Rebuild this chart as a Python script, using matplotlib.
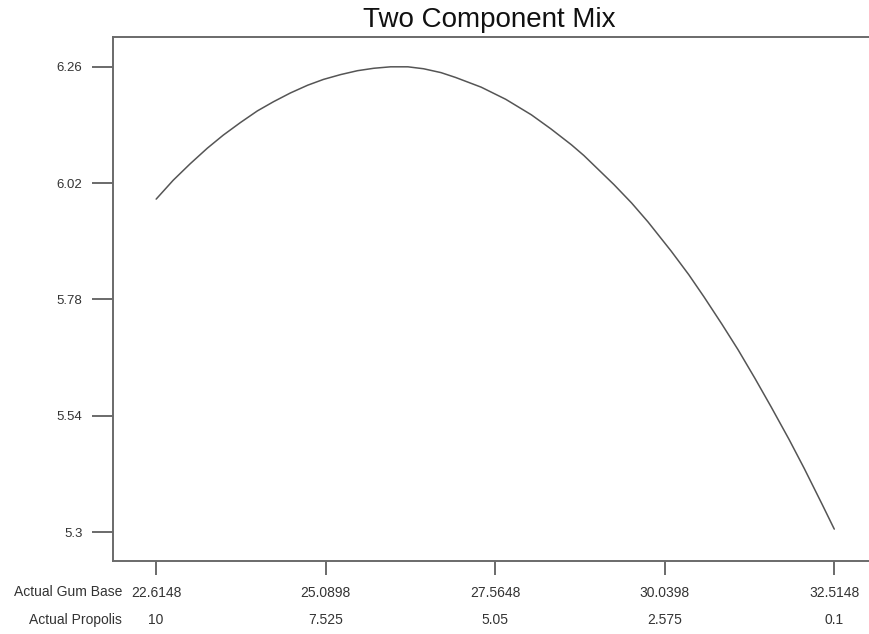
import matplotlib
matplotlib.use("Agg")
import matplotlib.pyplot as plt
import matplotlib.transforms as mtransforms

plt.rcParams["font.family"] = ["Liberation Sans", "DejaVu Sans"]

# response curve along the gum base / propolis mixture line
gum_base = [22.6148, 22.864, 23.112, 23.361, 23.594, 23.845, 24.092, 24.328,
            24.574, 24.826, 25.057, 25.309, 25.554, 25.792, 26.037, 26.290,
            26.519, 26.774, 26.987, 27.360, 27.718, 28.092, 28.377, 28.678,
            28.859, 29.298, 29.556, 29.795, 30.132, 30.391, 30.614, 30.874,
            31.111, 31.357, 31.594, 31.855, 32.077, 32.338, 32.5148]
response = [5.987, 6.026, 6.060, 6.092, 6.119, 6.145, 6.169, 6.188,
            6.206, 6.222, 6.234, 6.244, 6.252, 6.257, 6.260, 6.260,
            6.256, 6.248, 6.238, 6.218, 6.193, 6.161, 6.132, 6.099,
            6.077, 6.017, 5.979, 5.940, 5.880, 5.831, 5.785, 5.729,
            5.676, 5.617, 5.558, 5.491, 5.431, 5.357, 5.306]

gum_ticks = [22.6148, 25.0898, 27.5648, 30.0398, 32.5148]
gum_labels = ["22.6148", "25.0898", "27.5648", "30.0398", "32.5148"]
propolis_labels = ["10", "7.525", "5.05", "2.575", "0.1"]
y_ticks = [5.3, 5.54, 5.78, 6.02, 6.26]
y_labels = ["5.3", "5.54", "5.78", "6.02", "6.26"]

fig = plt.figure(figsize=(8.7, 6.34), dpi=100)
ax = fig.add_axes([0.130, 0.115, 0.875, 0.827])

ax.plot(gum_base, response, color="#555555", lw=1.1,
        solid_capstyle="round", solid_joinstyle="round")

ax.set_xlim(21.986, 33.10)
ax.set_ylim(5.24, 6.322)

spine_col = "#6a6a6a"
for side in ("left", "bottom", "top"):
    ax.spines[side].set_color(spine_col)
    ax.spines[side].set_linewidth(1.4)
ax.spines["right"].set_visible(False)

ax.set_xticks(gum_ticks)
ax.set_xticklabels(gum_labels)
ax.set_yticks(y_ticks)
ax.set_yticklabels(y_labels)
ax.tick_params(axis="y", length=15, width=1.4, color=spine_col, pad=7,
               labelsize=9.5, labelcolor="#333333")
ax.tick_params(axis="x", length=10, width=1.4, color=spine_col, pad=8,
               labelsize=10, labelcolor="#333333")

# second row of x labels: propolis level for each gum base setting
trans = mtransforms.blended_transform_factory(ax.transData, ax.transAxes)
for xv, lab in zip(gum_ticks, propolis_labels):
    ax.text(xv, -0.1126, lab, transform=trans, ha="center", va="center",
            fontsize=10, color="#333333")

row_names_x = 22.118
ax.text(row_names_x, -0.059, "Actual Gum Base", transform=trans,
        ha="right", va="center", fontsize=10, color="#333333")
ax.text(row_names_x, -0.1126, "Actual Propolis", transform=trans,
        ha="right", va="center", fontsize=10, color="#333333")

fig.text(0.562, 0.968, "Two Component Mix", ha="center", va="center",
         fontsize=20, color="#111111")

fig.savefig("out.png", dpi=100)
